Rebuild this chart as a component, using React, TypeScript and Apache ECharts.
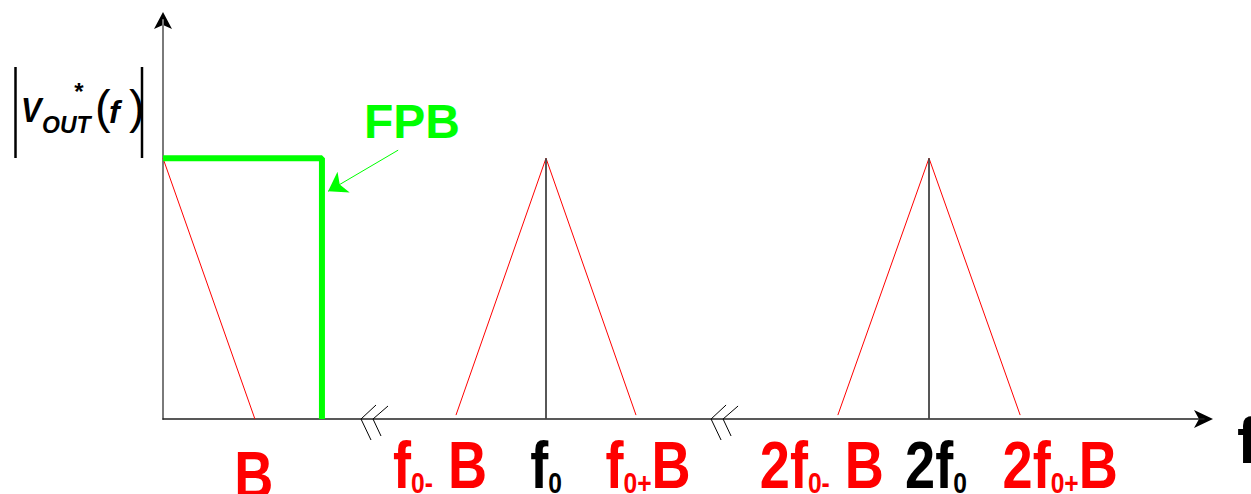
import React, { useEffect, useRef } from 'react';
import * as echarts from 'echarts';

// ---- data (frequency in units of f0, magnitude normalised to the peak) ----
const xMax = 2.718;
const yMax = 1.53;
const basebandLine = [[0, 1], [0.24, 0]];
const sideband1 = [[0.765, 0.015], [1, 1], [1.235, 0.015]];
const sideband2 = [[1.762, 0.015], [2, 1], [2.238, 0.015]];
const carrier1 = [[1, 0], [1, 1]];
const carrier2 = [[2, 0], [2, 1]];
const filterLine = [[0, 1], [0.415, 1], [0.415, 0]];
const filterArrow = [[0.614, 1.031], [0.431, 0.873]];
const breakPositions = [0.517, 1.431];
const tickValues = [0.24, 0.765, 1, 1.235, 1.762, 2, 2.238];
const tickLabels = [
  '{r|B}',
  '{r|f}{rs|0-}{r| B}',
  '{k|f}{ks|0}',
  '{r|f}{rs|0+}{r|B}',
  '{r|2f}{rs|0-}{r| B}',
  '{k|2f}{ks|0}',
  '{r|2f}{rs|0+}{r|B}',
];

const SANS = "'Liberation Sans', Arial, sans-serif";
const RED = '#ff0000';
const GREEN = '#00ff00';
const NARROW_SCALE = 0.82;

const labelShift = [[-1, 10], [-16, 0], [0, 0], [12, 0], [-16, 0], [7, 0], [40, 0]];

export default function App() {
  const ref = useRef<HTMLDivElement>(null);
  useEffect(() => {
    if (!ref.current) return;
    const chart = echarts.init(ref.current, null, { renderer: 'svg' });
    const big = (color: string) => ({ fill: color, fontSize: 66, fontWeight: 'bold', fontFamily: SANS, lineHeight: 66 });
    const small = (color: string) => ({ fill: color, fontSize: 30, fontWeight: 'bold', fontFamily: SANS, lineHeight: 41, verticalAlign: 'bottom' });
    const rich = { r: big(RED), rs: small(RED), k: big('#000'), ks: small('#000') };
    const lineSeries = (data: number[][], color: string, width: number) => ({
      type: 'line', data, symbol: 'none', silent: true,
      lineStyle: { color, width }, z: 3,
    });
    chart.setOption({
      animation: false,
      grid: { left: 163, right: 47, top: 20, bottom: 75, containLabel: false, outerBoundsMode: 'none' },
      xAxis: {
        type: 'value', min: 0, max: xMax,
        splitLine: { show: false }, axisTick: { show: false }, axisLabel: { show: false },
        axisLine: { show: true, symbol: 'none', lineStyle: { color: '#222', width: 1.5 } },
        name: 'f', nameLocation: 'end', nameGap: 33,
        nameTextStyle: { color: '#000', fontSize: 64, fontWeight: 'bold', fontFamily: SANS, verticalAlign: 'top', lineHeight: 44, align: 'left' },
      },
      yAxis: {
        type: 'value', min: 0, max: yMax,
        splitLine: { show: false }, axisTick: { show: false }, axisLabel: { show: false },
        axisLine: { show: true, symbol: 'none', lineStyle: { color: '#7a7a7a', width: 2 } },
      },
      series: [
        lineSeries(basebandLine, RED, 1),
        lineSeries(sideband1, RED, 1),
        lineSeries(sideband2, RED, 1),
        lineSeries(carrier1, '#444', 1.8),
        lineSeries(carrier2, '#444', 1.8),
        { ...lineSeries(filterLine, GREEN, 6), z: 4 },
        {
          type: 'lines', coordinateSystem: 'cartesian2d', silent: true, z: 5,
          symbol: ['none', 'arrow'], symbolSize: [10, 18],
          lineStyle: { color: GREEN, width: 1, opacity: 1 },
          data: [{ coords: filterArrow }],
        },
        {
          type: 'custom', silent: true, clip: false, z: 5,
          data: breakPositions.map((v) => [v, 0]),
          renderItem: (params: any, api: any) => {
            const p = api.coord([api.value(0), 0]);
            const s = { stroke: '#000', lineWidth: 1, fill: 'none' };
            return {
              type: 'group',
              children: [
                { type: 'polyline', shape: { points: [[p[0] + 15, p[1] - 14], [p[0], p[1]], [p[0] + 10, p[1] + 21]] }, style: s },
                { type: 'polyline', shape: { points: [[p[0] + 27, p[1] - 13], [p[0] + 12, p[1]], [p[0] + 20, p[1] + 17]] }, style: s },
              ],
            };
          },
        },
        {
          type: 'custom', silent: true, clip: false, z: 6,
          data: tickValues.map((v, i) => [v, 0, i]),
          renderItem: (params: any, api: any) => {
            const i = api.value(2);
            const p = api.coord([api.value(0), api.value(1)]);
            return {
              type: 'text',
              x: p[0] + labelShift[i][0],
              y: p[1] + 13 + labelShift[i][1],
              scaleX: NARROW_SCALE,
              style: { text: tickLabels[i], rich, align: 'center', verticalAlign: 'top' },
            };
          },
        },
      ],
      graphic: [
        // axis arrow heads
        { type: 'polygon', shape: { points: [[163, 12], [172, 29], [163, 25], [154, 29]] }, style: { fill: '#000' } },
        { type: 'polygon', shape: { points: [[1213, 419], [1194, 410], [1199, 419], [1194, 428]] }, style: { fill: '#000' } },
        // y-axis title |V_OUT*(f)|
        { type: 'line', shape: { x1: 15.5, y1: 67, x2: 15.5, y2: 158 }, style: { stroke: '#000', lineWidth: 2.5 } },
        { type: 'line', shape: { x1: 142, y1: 67, x2: 142, y2: 158 }, style: { stroke: '#000', lineWidth: 2.5 } },
        { type: 'text', x: 21, y: 110, scaleX: 0.85, style: { text: 'V', fontSize: 36, fontWeight: 'bold', fontStyle: 'italic', fontFamily: SANS, fill: '#000', verticalAlign: 'middle' } },
        { type: 'text', x: 42, y: 125, style: { text: 'OUT', fontSize: 23, fontWeight: 'bold', fontStyle: 'italic', fontFamily: SANS, fill: '#000', verticalAlign: 'middle' } },
        { type: 'text', x: 79, y: 91, style: { text: '*', fontSize: 24, fontWeight: 'bold', fontFamily: SANS, fill: '#000', align: 'center', verticalAlign: 'middle' } },
        { type: 'text', x: 95, y: 106, style: { text: '(', fontSize: 47, fontFamily: SANS, fill: '#000', verticalAlign: 'middle' } },
        { type: 'text', x: 109, y: 112, style: { text: 'f', fontSize: 32, fontWeight: 'bold', fontStyle: 'italic', fontFamily: SANS, fill: '#000', verticalAlign: 'middle' } },
        { type: 'text', x: 129, y: 106, style: { text: ')', fontSize: 47, fontFamily: SANS, fill: '#000', verticalAlign: 'middle' } },
        { type: 'text', x: 364, y: 121, style: { text: 'FPB', fontSize: 48, fontWeight: 'bold', fontFamily: SANS, fill: GREEN, verticalAlign: 'middle' } },
      ],
    });
    return () => chart.dispose();
  }, []);
  return <div ref={ref} style={{ position: 'absolute', left: 0, top: 0, width: 1251, height: 494 }} />;
}
